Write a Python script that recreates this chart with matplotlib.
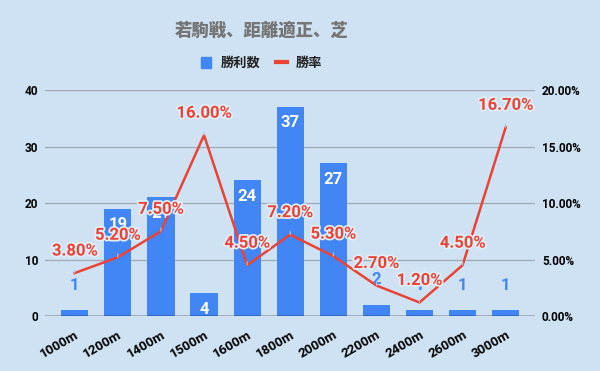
import numpy as np
import matplotlib.pyplot as plt
import matplotlib.patheffects as pe
from matplotlib.patches import Patch
from matplotlib.lines import Line2D

# data
distances = ['1000m', '1200m', '1400m', '1500m', '1600m', '1800m',
             '2000m', '2200m', '2400m', '2600m', '3000m']
wins = [1, 19, 21, 4, 24, 37, 27, 2, 1, 1, 1]
win_rate = [3.8, 5.2, 7.5, 16.0, 4.5, 7.2, 5.3, 2.7, 1.2, 4.5, 16.7]

title = '若駒戦、距離適正、芝'
bar_name = '勝利数'
line_name = '勝率'

BG = '#cfe2f3'
BLUE = '#4285f4'
RED = '#ea4335'
GRID = '#a0aab5'
CJK = ['Noto Sans CJK JP', 'DejaVu Sans']

fig = plt.figure(figsize=(6, 3.71), dpi=100, facecolor=BG)
ax = fig.add_axes([0.075, 0.1482, 0.8167, 0.6092])
ax.set_facecolor(BG)
ax2 = ax.twinx()

x = np.arange(len(distances))
ax.bar(x, wins, width=0.63, color=BLUE, zorder=2)
ax.set_xlim(-0.69, len(distances) - 1 + 0.68)
ax.set_ylim(0, 40)
ax.set_yticks([0, 10, 20, 30, 40])
ax.grid(axis='y', color=GRID, lw=0.9, zorder=0)
ax.axhline(0, color='black', lw=1.0, zorder=3)

ax2.plot(x, win_rate, color=RED, lw=1.8, zorder=4)
ax2.set_ylim(0, 20)
ax2.set_yticks([0, 5, 10, 15, 20])
ax2.set_yticklabels(['%.2f%%' % v for v in [0, 5, 10, 15, 20]])

for a in (ax, ax2):
    for s in a.spines.values():
        s.set_visible(False)
    a.tick_params(length=0, labelsize=8.5)
    for lab in a.get_yticklabels():
        lab.set_fontfamily('Roboto')
        lab.set_fontweight('bold')
ax.tick_params(axis='y', pad=5)
ax2.tick_params(axis='y', pad=5)

ax.set_xticks(x)
ax.set_xticklabels(distances, rotation=30, ha='right', rotation_mode='anchor',
                   fontfamily='Roboto', fontweight='bold', fontsize=9.5)
ax.tick_params(axis='x', pad=9)

# bar value labels
for xi, v in zip(x, wins):
    if v >= 4:
        ax.annotate(str(v), (xi, v), xytext=(0, -16), textcoords='offset pixels',
                    ha='center', va='center', color='white', fontsize=12,
                    fontfamily='Roboto', fontweight='bold', zorder=5)
    else:
        ax.annotate(str(v), (xi, v), xytext=(0, 25), textcoords='offset pixels',
                    ha='center', va='center', color=BLUE, fontsize=12,
                    fontfamily='Roboto', fontweight='bold', zorder=5)

# rate labels
for xi, r in zip(x, win_rate):
    t = ax2.annotate('%.2f%%' % r, (xi, r), xytext=(0, 22), textcoords='offset pixels',
                     ha='center', va='center', color=RED, fontsize=12,
                     fontfamily='Roboto', fontweight='bold', zorder=6,
                     arrowprops=dict(arrowstyle='-', color='#b9c9d8', lw=0.8,
                                     shrinkA=6, shrinkB=3))
    t.set_path_effects([pe.withStroke(linewidth=2.5, foreground='#e3edf7')])

fig.text(0.436, 0.917, title, ha='center', va='center', fontsize=12.5,
         fontweight='heavy', color='#757575', family=CJK)

handles = [Patch(facecolor=BLUE, edgecolor=BLUE),
           Line2D([0], [0], color=RED, lw=3)]
leg = fig.legend(handles, [bar_name, line_name], loc='center',
                 bbox_to_anchor=(0.436, 0.831), ncol=2, frameon=False,
                 prop={'family': CJK, 'size': 9.5, 'weight': 'bold'},
                 handlelength=0.8, handleheight=0.9, columnspacing=1.2,
                 handletextpad=0.7)
for txt in leg.get_texts():
    txt.set_color('#222222')

fig.savefig('out.png', dpi=100, facecolor=BG)
